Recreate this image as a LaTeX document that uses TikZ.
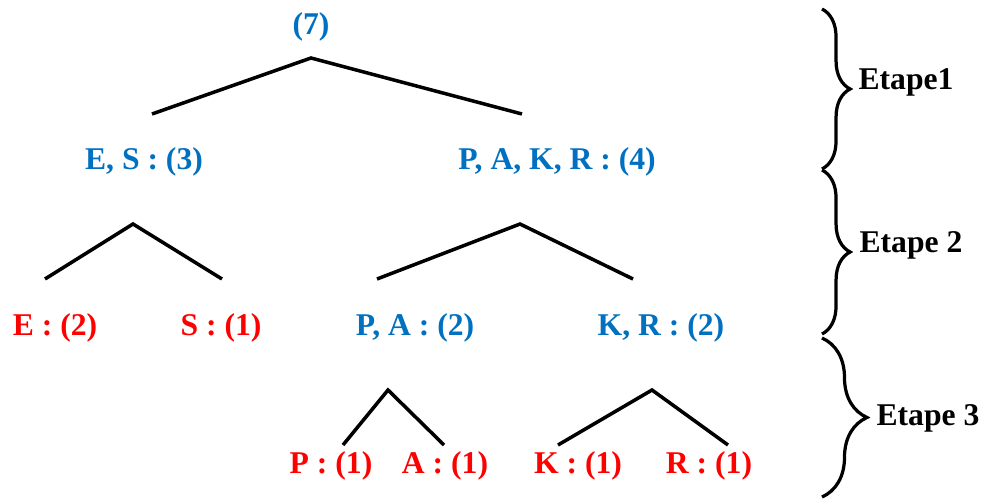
\documentclass[tikz,border=0pt]{standalone}
\usepackage{fontspec}
\setmainfont{Liberation Serif}
\usepackage{tikz}
\usetikzlibrary{decorations.pathreplacing}
\definecolor{treeblue}{RGB}{0, 112, 192}
\definecolor{leafred}{RGB}{255, 0, 0}

\begin{document}
\begin{tikzpicture}[x=0.025cm, y=-0.025cm,
  bigfont/.style={font=\fontsize{22.5}{25}\selectfont\bfseries},
  inner/.style={bigfont, text=treeblue},
  leaf/.style={bigfont, text=leafred},
  stage/.style={bigfont, text=black},
  branch/.style={draw=black, line width=2.5pt},
  curly/.style={draw=black, line width=2.3pt, decorate, decoration={brace, amplitude=#1}}
]
\useasboundingbox (0,0) rectangle (986,499);

% Level 0 and 1
\node[inner] (root) at (311, 27) {(7)};
\node[inner] (es) at (144, 162) {E, S : (3)};
\node[inner] (pakr) at (557, 162) {P, A, K, R : (4)};

% Level 2
\node[leaf] (e) at (55, 328) {E : (2)};
\node[leaf] (s) at (221, 328) {S : (1)};
\node[inner] (pa) at (415, 328) {P, A : (2)};
\node[inner] (kr) at (661, 328) {K, R : (2)};

% Level 3
\node[leaf] (p) at (331, 466) {P : (1)};
\node[leaf] (a) at (445, 466) {A : (1)};
\node[leaf] (k) at (578, 466) {K : (1)};
\node[leaf] (r) at (709, 466) {R : (1)};

% Stage labels
\node[stage] (etape1) at (906, 82) {Etape1};
\node[stage] (etape2) at (911, 245) {Etape 2};
\node[stage] (etape3) at (928, 418) {Etape 3};

% Branch points
\coordinate (rootTop) at (311, 58);
\coordinate (rootL) at (152, 114);
\coordinate (rootR) at (522, 114);
\coordinate (esTop) at (133, 224);
\coordinate (esL) at (45, 279);
\coordinate (esR) at (222, 279);
\coordinate (pakrTop) at (520, 224);
\coordinate (pakrL) at (377, 279);
\coordinate (pakrR) at (633, 279);
\coordinate (paTop) at (388, 390);
\coordinate (paL) at (343, 445);
\coordinate (paR) at (444, 445);
\coordinate (krTop) at (652, 390);
\coordinate (krL) at (558, 445);
\coordinate (krR) at (728, 445);

% Connections
\draw[branch] (rootL) -- (rootTop) -- (rootR);
\draw[branch] (esL) -- (esTop) -- (esR);
\draw[branch] (pakrL) -- (pakrTop) -- (pakrR);
\draw[branch] (paL) -- (paTop) -- (paR);
\draw[branch] (krL) -- (krTop) -- (krR);

% Braces
\coordinate (b1t) at (822, 9);
\coordinate (b1b) at (822, 169);
\coordinate (b2t) at (822, 170);
\coordinate (b2b) at (822, 334);
\coordinate (b3t) at (822, 338);
\coordinate (b3b) at (822, 497);
\draw[curly=20] (b1t) -- (b1b);
\draw[curly=20] (b2t) -- (b2b);
\draw[curly=32] (b3t) -- (b3b);

\end{tikzpicture}
\end{document}
